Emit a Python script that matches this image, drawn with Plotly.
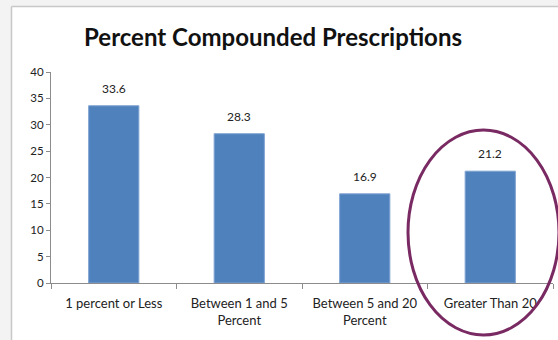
import plotly.graph_objects as go

categories = ["1 percent or Less", "Between 1 and 5<br>Percent", "Between 5 and 20<br>Percent", "Greater Than 20"]
values = [33.6, 28.3, 16.9, 21.2]
value_labels = ["33.6", "28.3", "16.9", "21.2"]
y_ticks = [0, 5, 10, 15, 20, 25, 30, 35, 40]

W, H = 558, 340
ML, MR, MT, MB = 51, 5, 72, 57
pw = W - ML - MR
ph = H - MT - MB

def px_x(p):
    return (p - ML) / pw

def px_y(p):
    return (H - MB - p) / ph

FONT = "Lato"
OUT = "#f3f3f3"

fig = go.Figure()
fig.add_trace(go.Bar(
    x=categories, y=values,
    marker=dict(color="#4F81BD", line=dict(color="#7FA3D1", width=1)),
    width=0.4,
    hoverinfo="skip",
))

for c, v, t in zip(categories, values, value_labels):
    fig.add_annotation(x=c, y=v, text=t, showarrow=False, xref="x", yref="y",
                       yanchor="bottom", yshift=8,
                       font=dict(family=FONT, size=12, color="#222222"))

fig.update_layout(
    width=W, height=H,
    margin=dict(l=ML, r=MR, t=MT, b=MB),
    paper_bgcolor="white",
    plot_bgcolor="white",
    showlegend=False,
    title=dict(text="<b>Percent Compounded Prescriptions</b>",
               x=273 / W, xanchor="center",
               y=1 - 38 / H, yanchor="middle",
               font=dict(family=FONT, size=24, color="#111111")),
    xaxis=dict(
        showline=True, linecolor="#8c8c8c", linewidth=1,
        ticks="outside", tickson="boundaries", ticklen=5, tickcolor="#8c8c8c",
        ticklabelstandoff=8,
        tickfont=dict(family=FONT, size=13, color="#222222"),
        showgrid=False, range=[-0.5, 3.5], fixedrange=True,
    ),
    yaxis=dict(
        range=[0, 40], tickvals=y_ticks, showline=True, linecolor="#8c8c8c", linewidth=1,
        ticks="outside", ticklen=4, tickcolor="#8c8c8c",
        tickfont=dict(family=FONT, size=11.5, color="#222222"),
        showgrid=False, zeroline=False, fixedrange=True,
    ),
    shapes=[
        dict(type="rect", xref="paper", yref="paper", layer="below",
             x0=px_x(0), x1=px_x(11.5), y0=px_y(H), y1=px_y(0),
             fillcolor=OUT, line=dict(width=0)),
        dict(type="rect", xref="paper", yref="paper", layer="below",
             x0=px_x(0), x1=px_x(W), y0=px_y(6.5), y1=px_y(0),
             fillcolor=OUT, line=dict(width=0)),
        dict(type="line", xref="paper", yref="paper", layer="below",
             x0=px_x(11.5), x1=px_x(11.5), y0=px_y(H), y1=px_y(6.5),
             line=dict(color="#c8c8c8", width=1.5)),
        dict(type="line", xref="paper", yref="paper", layer="below",
             x0=px_x(11.5), x1=px_x(W), y0=px_y(6.5), y1=px_y(6.5),
             line=dict(color="#c8c8c8", width=1.5)),
        dict(type="circle", xref="paper", yref="paper", layer="above",
             x0=px_x(408), x1=px_x(559), y0=px_y(335), y1=px_y(130),
             line=dict(color="#7a2a63", width=3)),
    ],
)

fig.write_html("out.html")
